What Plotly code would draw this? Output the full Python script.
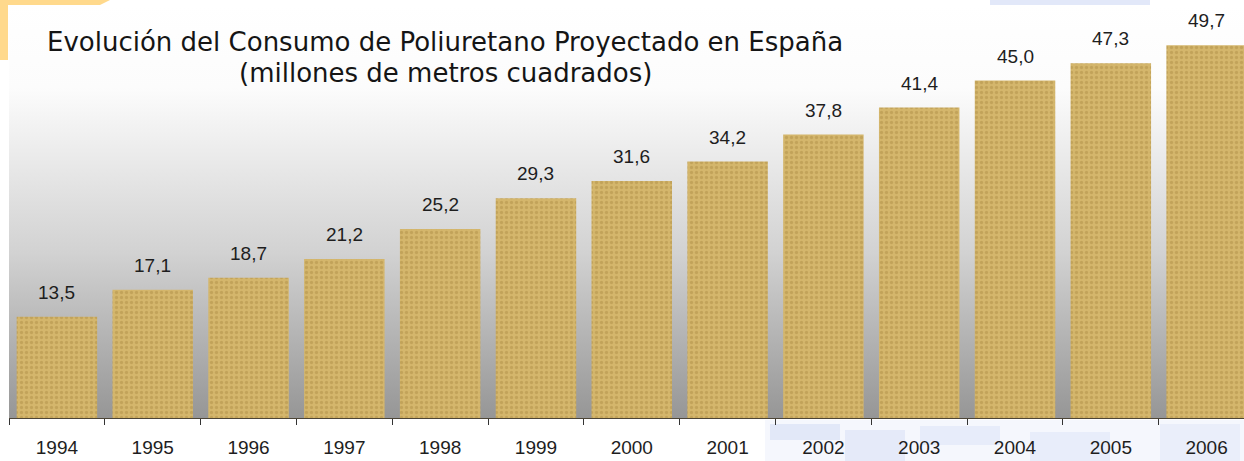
import base64
import plotly.graph_objects as go

# Consumo de poliuretano proyectado en España (millones de m²)
years = ["1994", "1995", "1996", "1997", "1998", "1999", "2000",
         "2001", "2002", "2003", "2004", "2005", "2006"]
consumo = [13.5, 17.1, 18.7, 21.2, 25.2, 29.3, 31.6,
           34.2, 37.8, 41.4, 45.0, 47.3, 49.7]
value_labels = [f"{v:.1f}".replace(".", ",") for v in consumo]

title_lines = ["Evolución del Consumo de Poliuretano Proyectado en España",
               "(millones de metros cuadrados)"]

W, H = 1244, 461
ML, MR, MT, MB = 9, 0, 5, 43
PW, PH = W - ML - MR, H - MT - MB


def px(x):
    return (x - ML) / PW


def py(y):
    return 1 - (y - MT) / PH


NUM_FONT = "Liberation Sans"
TITLE_FONT = "DejaVu Sans"

fig = go.Figure()
fig.add_trace(go.Bar(
    x=years, y=consumo, width=0.84,
    marker=dict(
        color="#D4B66C",
        line=dict(width=0),
        pattern=dict(shape=".", fgcolor="#A7863E", fgopacity=0.4,
                     size=5, solidity=0.35),
    ),
    hoverinfo="x+y",
))

# value labels above each bar (category index keeps the axis categorical)
for i, (v, lab) in enumerate(zip(consumo, value_labels)):
    fig.add_annotation(x=i, y=v, xref="x", yref="y", text=lab,
                       showarrow=False, yanchor="bottom", yshift=12,
                       font=dict(family=NUM_FONT, size=19, color="#1e1e1e"))

# two-line title
for line, cy in zip(title_lines, (42, 73)):
    fig.add_annotation(xref="paper", yref="paper", x=px(445), y=py(cy),
                       xanchor="center", yanchor="middle",
                       text=line, showarrow=False,
                       font=dict(family=TITLE_FONT, size=26, color="#151515"))

# grey vertical gradient behind the plot area
svg = ('<svg xmlns="http://www.w3.org/2000/svg" width="100" height="100" '
       'preserveAspectRatio="none"><defs><linearGradient id="g" x1="0" y1="0" '
       'x2="0" y2="1"><stop offset="0" stop-color="#ffffff"/>'
       '<stop offset="0.2" stop-color="#fcfcfc"/>'
       '<stop offset="0.6" stop-color="#d2d2d2"/>'
       '<stop offset="1" stop-color="#969696"/></linearGradient></defs>'
       '<rect width="100" height="100" fill="url(#g)"/></svg>')
bg_src = "data:image/svg+xml;base64," + base64.b64encode(svg.encode()).decode()

shapes = []
# orange corner ornament, top left
shapes.append(dict(type="path", xref="paper", yref="paper", layer="above",
                   path=(f"M {px(0)},{py(0)} L {px(110)},{py(0)} "
                         f"L {px(100)},{py(5)} L {px(8)},{py(5)} "
                         f"L {px(8)},{py(60)} L {px(0)},{py(60)} Z"),
                   fillcolor="#FFD98C", line=dict(width=0)))
# faint blue watermark, lower right and top right
blue_blocks = [
    (765, 420, 1244, 461, 0.10),
    (770, 424, 840, 440, 0.22),
    (845, 430, 905, 461, 0.18),
    (920, 426, 1000, 445, 0.16),
    (1030, 432, 1110, 461, 0.15),
    (1160, 424, 1240, 461, 0.13),
    (990, 0, 1150, 5, 0.30),
]
for x0, y0, x1, y1, op in blue_blocks:
    shapes.append(dict(type="rect", xref="paper", yref="paper", layer="below",
                       x0=px(x0), x1=px(x1), y0=py(y1), y1=py(y0),
                       fillcolor="#9fb4ea", opacity=op, line=dict(width=0)))

fig.update_layout(
    width=W, height=H,
    margin=dict(l=ML, r=MR, t=MT, b=MB, pad=0),
    paper_bgcolor="#ffffff",
    plot_bgcolor="rgba(0,0,0,0)",
    showlegend=False,
    bargap=0.16,
    images=[dict(source=bg_src, xref="paper", yref="paper", x=0, y=1,
                 sizex=1, sizey=1, sizing="stretch", xanchor="left",
                 yanchor="top", layer="below")],
    shapes=shapes,
    xaxis=dict(type="category", range=[-0.5, 12.39], tickson="boundaries",
               ticks="outside", ticklen=6, tickcolor="#333333",
               showline=True, linecolor="#4d4536", linewidth=1,
               showgrid=False, zeroline=False, ticklabelstandoff=12,
               tickfont=dict(family=NUM_FONT, size=19, color="#1e1e1e")),
    yaxis=dict(range=[0, 55.07], visible=False, showgrid=False,
               zeroline=False),
)

fig.write_html("out.html")
